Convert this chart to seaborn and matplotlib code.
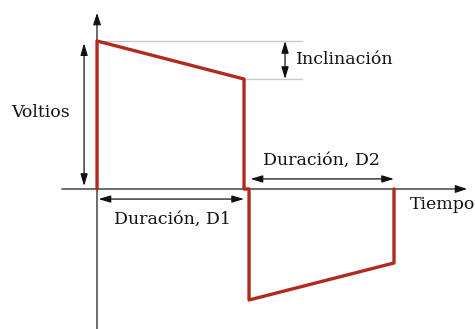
import pandas as pd
import seaborn as sns
import matplotlib.pyplot as plt

# waveform corners (time in units of D1, voltage in units of the peak)
t_points = [0.0, 0.0, 1.0, 1.0, 1.034, 1.034, 2.02, 2.02]
v_points = [0.0, 1.0, 0.743, 0.0, 0.0, -0.75, -0.5, 0.0]

peak_v = 1.0
droop_v = 0.743
d1_end = 1.0
d2_start = 1.034
d2_end = 2.02

label_volts = "Voltios"
label_tilt = "Inclinación"
label_d1 = "Duración, D1"
label_d2 = "Duración, D2"
label_time = "Tiempo"


def main():
    sns.set_style("white")
    plt.rcParams['font.family'] = ['DejaVu Serif']
    plt.rcParams['text.color'] = '#111111'

    fig = plt.figure(figsize=(4.75, 3.29), dpi=100)
    ax = fig.add_axes([0, 0, 1, 1])
    ax.set_xlim(-0.66, 2.571)
    ax.set_ylim(-0.946, 1.277)
    ax.axis("off")

    # reference lines for the tilt
    ax.plot([0, 1.395], [peak_v, peak_v], color="#c8c8c8", lw=1)
    ax.plot([d1_end, 1.395], [droop_v, droop_v], color="#c8c8c8", lw=1)

    # axes with arrows
    ax.plot([-0.238, 2.49], [0, 0], color="#606060", lw=1.3)
    ax.plot([0, 0], [-0.946, 1.17], color="#606060", lw=1.3)
    head = dict(arrowstyle="-|>,head_length=0.6,head_width=0.2", color="#111111",
                lw=0.8, mutation_scale=12, shrinkA=0, shrinkB=0)
    ax.annotate("", xy=(2.517, 0), xytext=(2.45, 0), arrowprops=head)
    ax.annotate("", xy=(0, 1.189), xytext=(0, 1.12), arrowprops=head)

    df = pd.DataFrame({"t": t_points, "v": v_points})
    sns.lineplot(data=df, x="t", y="v", sort=False, estimator=None,
                 color="#b02a1e", lw=2.4, ax=ax)
    ax.axis("off")

    arrow = dict(arrowstyle="<|-|>,head_length=0.6,head_width=0.18", color="#111111",
                 lw=0.9, mutation_scale=12, shrinkA=0, shrinkB=0)
    ax.annotate("", xy=(-0.088, 0.02), xytext=(-0.088, 0.985), arrowprops=arrow)
    ax.annotate("", xy=(1.279, droop_v), xytext=(1.279, peak_v), arrowprops=arrow)
    ax.annotate("", xy=(0.01, -0.068), xytext=(d1_end, -0.068), arrowprops=arrow)
    ax.annotate("", xy=(d2_start + 0.01, 0.068), xytext=(d2_end, 0.068), arrowprops=arrow)

    fs = 12.5
    ax.text(-0.585, 0.514, label_volts, fontsize=fs, ha="left", va="center")
    ax.text(1.354, 0.878, label_tilt, fontsize=fs, ha="left", va="center")
    ax.text(0.51, -0.203, label_d1, fontsize=fs, ha="center", va="center")
    ax.text(1.53, 0.196, label_d2, fontsize=fs, ha="center", va="center")
    ax.text(2.13, -0.108, label_time, fontsize=fs, ha="left", va="center")

    plt.savefig("out.png", dpi=100)
    plt.close()


if __name__ == "__main__":
    main()
